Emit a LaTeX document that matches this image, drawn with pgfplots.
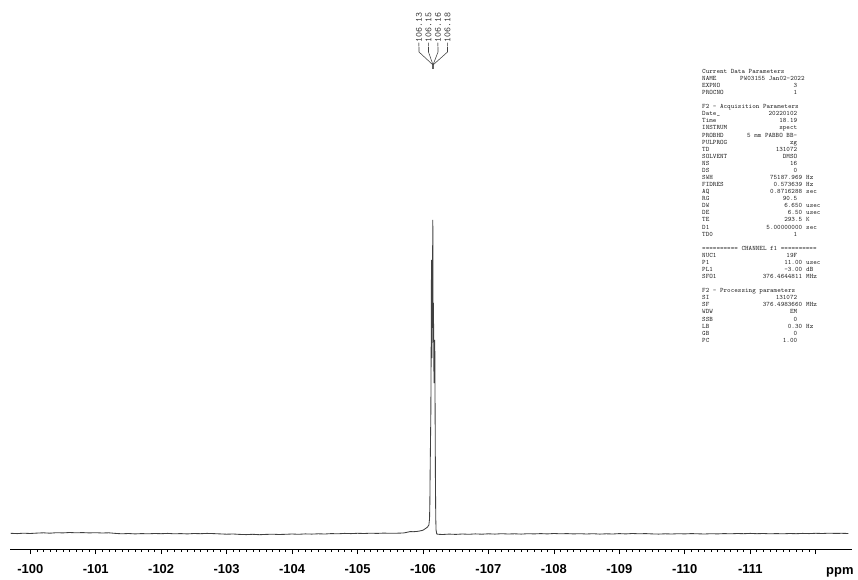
\documentclass[border=0pt]{standalone}
\usepackage{fontspec}
\setmainfont{Liberation Sans}
\usepackage{pgfplots}
\pgfplotsset{compat=1.18}
\newcommand\pa[2]{\rlap{#1}\makebox[95bp][r]{#2}}
\newcommand\pu[3]{\rlap{#1}\makebox[100bp][r]{#2}\hspace{4bp}#3}
\begin{document}
\begin{tikzpicture}
\useasboundingbox (0,0) rectangle (858bp,580bp);
\begin{axis}[
  at={(10bp,31bp)}, anchor=south west,
  scale only axis, width=841.7bp, height=549bp,
  xmin=-112.55, xmax=-99.69, x dir=reverse,
  ymin=-16, ymax=533,
  axis x line*=bottom, axis y line=none, ytick=\empty,
  xtick={-100,-101,...,-112},
  xticklabels={-100,-101,-102,-103,-104,-105,-106,-107,-108,-109,-110,-111,{}},
  minor x tick num=9,
  tick align=outside,
  major tick length=5bp, minor tick length=2.5bp,
  every tick/.style={black, line width=0.6bp},
  axis line style={line width=0.6bp},
  xticklabel style={font=\fontsize{13}{13}\selectfont\bfseries, inner sep=0pt, anchor=base, yshift=-19bp},
  clip=false,
]
\addplot[black!75, line width=0.85bp] table {
-99.7 -0.3
-99.8 -0.6
-99.9 -0.2
-100.0 -0.5
-100.1 -0.1
-100.2 0.2
-100.3 -0.2
-100.4 0.3
-100.5 0.1
-100.6 0.5
-100.7 0.2
-100.8 0.4
-100.9 0.1
-101.0 0.3
-101.1 0.0
-101.2 0.2
-101.3 -0.4
-101.4 -0.8
-101.5 -0.5
-101.6 -0.9
-101.7 -0.6
-101.8 -0.8
-101.9 -0.5
-102.0 -0.7
-102.1 -0.4
-102.2 -0.8
-102.3 -0.6
-102.4 -0.9
-102.5 -0.5
-102.6 -0.7
-102.7 -0.4
-102.8 -0.6
-102.9 -0.9
-103.0 -1.2
-103.1 -1.0
-103.2 -1.4
-103.3 -1.6
-103.4 -1.3
-103.5 -1.7
-103.6 -1.4
-103.7 -1.2
-103.8 -1.5
-103.9 -1.3
-104.0 -1.0
-104.1 -1.3
-104.2 -0.9
-104.3 -1.1
-104.4 -0.8
-104.5 -1.0
-104.6 -0.6
-104.7 -0.8
-104.8 -0.4
-104.9 -0.6
-105.0 -0.3
-105.1 -0.5
-105.2 -0.2
-105.3 -0.4
-105.4 -0.1
-105.5 -0.3
-105.6 -0.2
-105.7 0.0
-105.75 0.6
-105.8 1.4
-105.85 1.3
-105.9 1.5
-105.95 2.0
-106.00 2.8
-106.04 4.5
-106.07 6
-106.09 8
-106.10 14
-106.105 30
-106.11 65
-106.12 120
-106.125 185
-106.13 273
-106.135 175
-106.14 195
-106.145 250
-106.15 313
-106.155 205
-106.16 230
-106.165 170
-106.17 150
-106.175 165
-106.18 193
-106.185 125
-106.19 55
-106.195 15
-106.20 3
-106.21 -1.0
-106.24 -1.3
-106.3 -1.5
-106.4 -1.1
-106.5 -1.4
-106.6 -1.0
-106.7 -1.3
-106.8 -0.9
-106.9 -1.2
-107.0 -0.8
-107.1 -1.1
-107.2 -0.7
-107.3 -1.0
-107.4 -0.8
-107.5 -1.1
-107.6 -0.7
-107.7 -0.9
-107.8 -0.6
-107.9 -0.9
-108.0 -0.5
-108.1 -0.8
-108.2 -0.6
-108.3 -0.9
-108.4 -0.7
-108.5 -1.0
-108.6 -0.7
-108.7 -1.1
-108.8 -0.8
-108.9 -1.0
-109.0 -0.6
-109.1 -0.9
-109.2 -0.5
-109.3 -0.8
-109.4 -0.6
-109.5 -0.9
-109.6 -1.1
-109.7 -0.8
-109.8 -1.0
-109.9 -0.7
-110.0 -0.9
-110.1 -0.6
-110.2 -0.8
-110.3 -1.0
-110.4 -0.7
-110.5 -0.9
-110.6 -0.6
-110.7 -0.8
-110.8 -0.5
-110.9 -0.7
-111.0 -0.4
-111.1 -0.7
-111.2 -0.5
-111.3 -0.8
-111.4 -0.6
-111.5 -0.8
-111.6 -0.5
-111.7 -0.7
-111.8 -0.4
-111.9 -0.6
-112.0 -0.3
-112.1 -0.5
-112.2 -0.2
-112.3 -0.4
-112.4 -0.3
-112.5 -0.5
};
\node[anchor=base, inner sep=0pt, font=\fontsize{13}{13}\selectfont\bfseries] at (axis cs:-112.37,-16) [yshift=-25bp] {ppm};
\end{axis}
% peak labels
\begin{scope}[black!75, line width=0.55bp]
\foreach \xx/\lab in {419/-106.13, 428.5/-106.15, 438/-106.16, 447.5/-106.18} {
  \node[rotate=90, anchor=east, inner sep=0pt, font=\fontsize{9.5}{9.5}\selectfont\ttfamily, text=black!80] at (\xx bp, 568bp) {\lab};
  \draw (\xx bp, 533bp) -- (\xx bp, 528bp) -- (433bp, 515bp) -- (433bp, 511bp);
}
\end{scope}
% parameters
\node[anchor=north west, inner sep=0pt, align=left, text=black!85,
      font=\fontsize{6.76}{7.1}\selectfont\ttfamily] at (702bp, 511bp) {%
Current Data Parameters\\
\rlap{NAME}\hspace{38bp}PW03155 Jan02-2022\\
\pa{EXPNO}{3}\\
\pa{PROCNO}{1}\\[7.1bp]
F2 - Acquisition Parameters\\
\pa{Date\_}{20220102}\\
\pa{Time}{18.19}\\
\pa{INSTRUM}{spect}\\
\pa{PROBHD}{5 mm PABBO BB-}\\
\pa{PULPROG}{zg}\\
\pa{TD}{131072}\\
\pa{SOLVENT}{DMSO}\\
\pa{NS}{16}\\
\pa{DS}{0}\\
\pu{SWH}{75187.969}{Hz}\\
\pu{FIDRES}{0.573639}{Hz}\\
\pu{AQ}{0.8716288}{sec}\\
\pa{RG}{90.5}\\
\pu{DW}{6.650}{usec}\\
\pu{DE}{6.50}{usec}\\
\pu{TE}{293.5}{K}\\
\pu{D1}{5.00000000}{sec}\\
\pa{TD0}{1}\\[7.1bp]
========== CHANNEL f1 ==========\\
\pa{NUC1}{19F}\\
\pu{P1}{11.00}{usec}\\
\pu{PL1}{-3.00}{dB}\\
\pu{SFO1}{376.4644811}{MHz}\\[7.1bp]
F2 - Processing parameters\\
\pa{SI}{131072}\\
\pu{SF}{376.4983660}{MHz}\\
\pa{WDW}{EM}\\
\pa{SSB}{0}\\
\pu{LB}{0.30}{Hz}\\
\pa{GB}{0}\\
\pa{PC}{1.00}};
\end{tikzpicture}
\end{document}
